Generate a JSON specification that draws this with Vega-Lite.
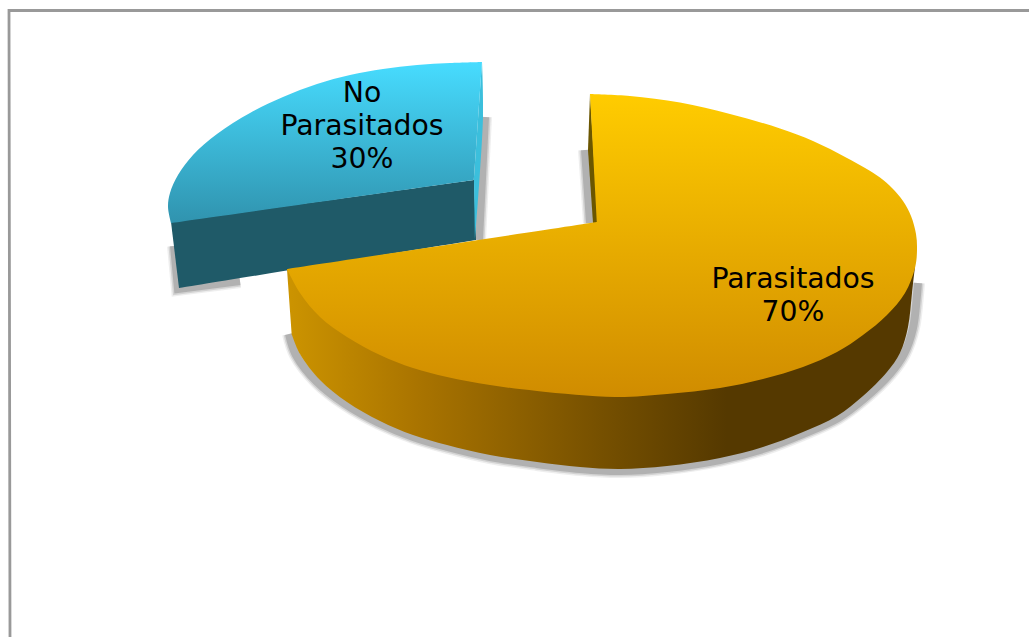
{
  "$schema": "https://vega.github.io/schema/vega-lite/v6.json",
  "width": 1029,
  "height": 637,
  "padding": 0,
  "background": "white",
  "view": {"stroke": null},
  "datasets": {
    "outlines": [
      {"part":"frame","i":1,"x":1035,"y":10.5},{"part":"frame","i":2,"x":9,"y":10.5},{"part":"frame","i":3,"x":10,"y":640},

      {"part":"blueShadow","i":1,"x":485,"y":117},{"part":"blueShadow","i":2,"x":479,"y":240},
      {"part":"blueShadowLeft","i":1,"x":174,"y":246},{"part":"blueShadowLeft","i":2,"x":178,"y":289},{"part":"blueShadowLeft","i":3,"x":178,"y":289},{"part":"blueShadowLeft","i":4,"x":240,"y":281},
      {"part":"notchShadow","i":1,"x":585,"y":150},{"part":"notchShadow","i":2,"x":590,"y":223},
      {"part":"rimShadow","i":1,"x":289,"y":334},{"part":"rimShadow","i":2,"x":296,"y":355},{"part":"rimShadow","i":3,"x":317,"y":382},{"part":"rimShadow","i":4,"x":345,"y":404},{"part":"rimShadow","i":5,"x":379,"y":423},{"part":"rimShadow","i":6,"x":413,"y":437},{"part":"rimShadow","i":7,"x":447,"y":447},{"part":"rimShadow","i":8,"x":490,"y":457},{"part":"rimShadow","i":9,"x":537,"y":464},{"part":"rimShadow","i":10,"x":580,"y":469},{"part":"rimShadow","i":11,"x":620,"y":471},{"part":"rimShadow","i":12,"x":667,"y":468},{"part":"rimShadow","i":13,"x":720,"y":460},{"part":"rimShadow","i":14,"x":763,"y":449},{"part":"rimShadow","i":15,"x":803,"y":434},{"part":"rimShadow","i":16,"x":838,"y":418},{"part":"rimShadow","i":17,"x":865,"y":398},{"part":"rimShadow","i":18,"x":890,"y":374},{"part":"rimShadow","i":19,"x":904,"y":354},{"part":"rimShadow","i":20,"x":913,"y":328},{"part":"rimShadow","i":21,"x":917,"y":295},{"part":"rimShadow","i":22,"x":918,"y":283},

      {"part":"blueSide","i":1,"x":171,"y":222},{"part":"blueSide","i":2,"x":171,"y":222},{"part":"blueSide","i":3,"x":179,"y":288},{"part":"blueSide","i":4,"x":179,"y":288},{"part":"blueSide","i":5,"x":476,"y":240},{"part":"blueSide","i":6,"x":476,"y":240},{"part":"blueSide","i":7,"x":474,"y":180},{"part":"blueSide","i":8,"x":474,"y":180},{"part":"blueSide","i":9,"x":171,"y":222},{"part":"blueSide","i":10,"x":171,"y":222},

      {"part":"blueEdge","i":1,"x":482,"y":62},{"part":"blueEdge","i":2,"x":482,"y":62},{"part":"blueEdge","i":3,"x":483,"y":117},{"part":"blueEdge","i":4,"x":475,"y":240},{"part":"blueEdge","i":5,"x":475,"y":240},{"part":"blueEdge","i":6,"x":474,"y":180},{"part":"blueEdge","i":7,"x":474,"y":180},{"part":"blueEdge","i":8,"x":482,"y":62},{"part":"blueEdge","i":9,"x":482,"y":62},

      {"part":"blueTop","i":1,"x":482,"y":62},{"part":"blueTop","i":2,"x":482,"y":62},{"part":"blueTop","i":3,"x":450,"y":63},{"part":"blueTop","i":4,"x":417,"y":65},{"part":"blueTop","i":5,"x":383,"y":69},{"part":"blueTop","i":6,"x":350,"y":75},{"part":"blueTop","i":7,"x":317,"y":84},{"part":"blueTop","i":8,"x":283,"y":97},{"part":"blueTop","i":9,"x":250,"y":113},{"part":"blueTop","i":10,"x":217,"y":134},{"part":"blueTop","i":11,"x":193,"y":155},{"part":"blueTop","i":12,"x":178,"y":175},{"part":"blueTop","i":13,"x":170,"y":193},{"part":"blueTop","i":14,"x":168,"y":207},{"part":"blueTop","i":15,"x":171,"y":223},{"part":"blueTop","i":16,"x":171,"y":223},{"part":"blueTop","i":17,"x":474,"y":180},{"part":"blueTop","i":18,"x":474,"y":180},{"part":"blueTop","i":19,"x":482,"y":62},{"part":"blueTop","i":20,"x":482,"y":62},

      {"part":"goldSide","i":1,"x":287,"y":269},{"part":"goldSide","i":2,"x":287,"y":269},{"part":"goldSide","i":3,"x":292,"y":335},{"part":"goldSide","i":4,"x":292,"y":335},{"part":"goldSide","i":5,"x":300,"y":354},{"part":"goldSide","i":6,"x":320,"y":380},{"part":"goldSide","i":7,"x":347,"y":402},{"part":"goldSide","i":8,"x":380,"y":421},{"part":"goldSide","i":9,"x":413,"y":435},{"part":"goldSide","i":10,"x":447,"y":445},{"part":"goldSide","i":11,"x":490,"y":455},{"part":"goldSide","i":12,"x":537,"y":462},{"part":"goldSide","i":13,"x":580,"y":467},{"part":"goldSide","i":14,"x":620,"y":469},{"part":"goldSide","i":15,"x":667,"y":466},{"part":"goldSide","i":16,"x":720,"y":458},{"part":"goldSide","i":17,"x":763,"y":447},{"part":"goldSide","i":18,"x":803,"y":432},{"part":"goldSide","i":19,"x":837,"y":416},{"part":"goldSide","i":20,"x":863,"y":396},{"part":"goldSide","i":21,"x":887,"y":372},{"part":"goldSide","i":22,"x":900,"y":353},{"part":"goldSide","i":23,"x":908,"y":327},{"part":"goldSide","i":24,"x":912,"y":293},{"part":"goldSide","i":25,"x":915,"y":267},{"part":"goldSide","i":26,"x":915,"y":267},{"part":"goldSide","i":27,"x":600,"y":300},{"part":"goldSide","i":28,"x":600,"y":300},{"part":"goldSide","i":29,"x":287,"y":269},{"part":"goldSide","i":30,"x":287,"y":269},

      {"part":"goldNotch","i":1,"x":590,"y":94},{"part":"goldNotch","i":2,"x":588,"y":150},{"part":"goldNotch","i":3,"x":593,"y":223},{"part":"goldNotch","i":4,"x":598,"y":223},{"part":"goldNotch","i":5,"x":590,"y":94},

      {"part":"goldTop","i":1,"x":590,"y":94},{"part":"goldTop","i":2,"x":590,"y":94},{"part":"goldTop","i":3,"x":630,"y":96},{"part":"goldTop","i":4,"x":680,"y":102.5},{"part":"goldTop","i":5,"x":730,"y":114},{"part":"goldTop","i":6,"x":780,"y":128.5},{"part":"goldTop","i":7,"x":813,"y":141},{"part":"goldTop","i":8,"x":847,"y":158},{"part":"goldTop","i":9,"x":880,"y":177.5},{"part":"goldTop","i":10,"x":892,"y":188},{"part":"goldTop","i":11,"x":903,"y":201},{"part":"goldTop","i":12,"x":911,"y":216},{"part":"goldTop","i":13,"x":916,"y":234},{"part":"goldTop","i":14,"x":917,"y":250},{"part":"goldTop","i":15,"x":915,"y":268},{"part":"goldTop","i":16,"x":905,"y":293},{"part":"goldTop","i":17,"x":887,"y":315},{"part":"goldTop","i":18,"x":863,"y":335},{"part":"goldTop","i":19,"x":837,"y":352},{"part":"goldTop","i":20,"x":803,"y":367},{"part":"goldTop","i":21,"x":763,"y":379},{"part":"goldTop","i":22,"x":720,"y":388},{"part":"goldTop","i":23,"x":667,"y":394},{"part":"goldTop","i":24,"x":615,"y":397},{"part":"goldTop","i":25,"x":537,"y":391},{"part":"goldTop","i":26,"x":490,"y":385},{"part":"goldTop","i":27,"x":447,"y":377},{"part":"goldTop","i":28,"x":413,"y":368},{"part":"goldTop","i":29,"x":380,"y":355},{"part":"goldTop","i":30,"x":347,"y":337},{"part":"goldTop","i":31,"x":320,"y":317},{"part":"goldTop","i":32,"x":300,"y":293},{"part":"goldTop","i":33,"x":287,"y":269},{"part":"goldTop","i":34,"x":287,"y":269},{"part":"goldTop","i":35,"x":597,"y":222},{"part":"goldTop","i":36,"x":597,"y":222},{"part":"goldTop","i":37,"x":590,"y":94},{"part":"goldTop","i":38,"x":590,"y":94}
    ],
    "slices": [
      {"segment":"No Parasitados","share":30,"label":"No\nParasitados\n30%","x":362,"y":94},
      {"segment":"Parasitados","share":70,"label":"Parasitados\n70%","x":793,"y":280}
    ]
  },
  "encoding": {
    "x": {"field":"x","type":"quantitative","scale":{"domain":[0,1029],"nice":false,"zero":false},"axis":null},
    "y": {"field":"y","type":"quantitative","scale":{"domain":[637,0],"nice":false,"zero":false},"axis":null},
    "order": {"field":"i","type":"ordinal"}
  },
  "layer": [
    {"data":{"name":"outlines"},"transform":[{"filter":"datum.part==='frame'"}],
     "mark":{"type":"line","stroke":"#999999","strokeWidth":2.8,"clip":true}},

    {"data":{"name":"outlines"},"transform":[{"filter":"indexof(['blueShadow','blueShadowLeft','notchShadow','rimShadow'],datum.part)>=0"}],
     "mark":{"type":"line","interpolate":"catmull-rom","stroke":"#5a5a5a","strokeOpacity":0.1,"strokeWidth":14},
     "encoding":{"detail":{"field":"part"}}},
    {"data":{"name":"outlines"},"transform":[{"filter":"indexof(['blueShadow','blueShadowLeft','notchShadow','rimShadow'],datum.part)>=0"}],
     "mark":{"type":"line","interpolate":"catmull-rom","stroke":"#5a5a5a","strokeOpacity":0.18,"strokeWidth":11},
     "encoding":{"detail":{"field":"part"}}},
    {"data":{"name":"outlines"},"transform":[{"filter":"indexof(['blueShadow','blueShadowLeft','notchShadow','rimShadow'],datum.part)>=0"}],
     "mark":{"type":"line","interpolate":"catmull-rom","stroke":"#5a5a5a","strokeOpacity":0.28,"strokeWidth":8},
     "encoding":{"detail":{"field":"part"}}},

    {"data":{"name":"outlines"},"transform":[{"filter":"datum.part==='blueSide'"}],
     "mark":{"type":"line","interpolate":"catmull-rom","strokeWidth":0,"fill":"#1f5a68"}},
    {"data":{"name":"outlines"},"transform":[{"filter":"datum.part==='blueEdge'"}],
     "mark":{"type":"line","interpolate":"catmull-rom","strokeWidth":0,"fill":"#3bbfdc"}},
    {"data":{"name":"outlines"},"transform":[{"filter":"datum.part==='blueTop'"}],
     "mark":{"type":"line","interpolate":"catmull-rom","strokeWidth":0,
       "fill":{"gradient":"linear","x1":0,"y1":0,"x2":0,"y2":1,"stops":[{"offset":0,"color":"#47dcff"},{"offset":1,"color":"#3093ae"}]}}},

    {"data":{"name":"outlines"},"transform":[{"filter":"datum.part==='goldSide'"}],
     "mark":{"type":"line","interpolate":"catmull-rom","strokeWidth":0,
       "fill":{"gradient":"linear","x1":0,"y1":0,"x2":1,"y2":0,"stops":[{"offset":0,"color":"#cc9400"},{"offset":0.2,"color":"#ab7500"},{"offset":0.5,"color":"#765000"},{"offset":0.7,"color":"#553900"},{"offset":1,"color":"#553900"}]}}},
    {"data":{"name":"outlines"},"transform":[{"filter":"datum.part==='goldNotch'"}],
     "mark":{"type":"line","strokeWidth":0,"fill":"#6b5600"}},
    {"data":{"name":"outlines"},"transform":[{"filter":"datum.part==='goldTop'"}],
     "mark":{"type":"line","interpolate":"catmull-rom","strokeWidth":0,
       "fill":{"gradient":"linear","x1":0,"y1":0,"x2":0,"y2":1,"stops":[{"offset":0,"color":"#ffcc00"},{"offset":1,"color":"#d08c00"}]}}},

    {"data":{"name":"slices"},
     "mark":{"type":"text","font":"DejaVu Sans","fontSize":28.3,"color":"#000000","align":"center","baseline":"middle","lineBreak":"\n","lineHeight":33},
     "encoding":{"text":{"field":"label"},"order":{"field":"share","type":"quantitative"}}}
  ]
}
